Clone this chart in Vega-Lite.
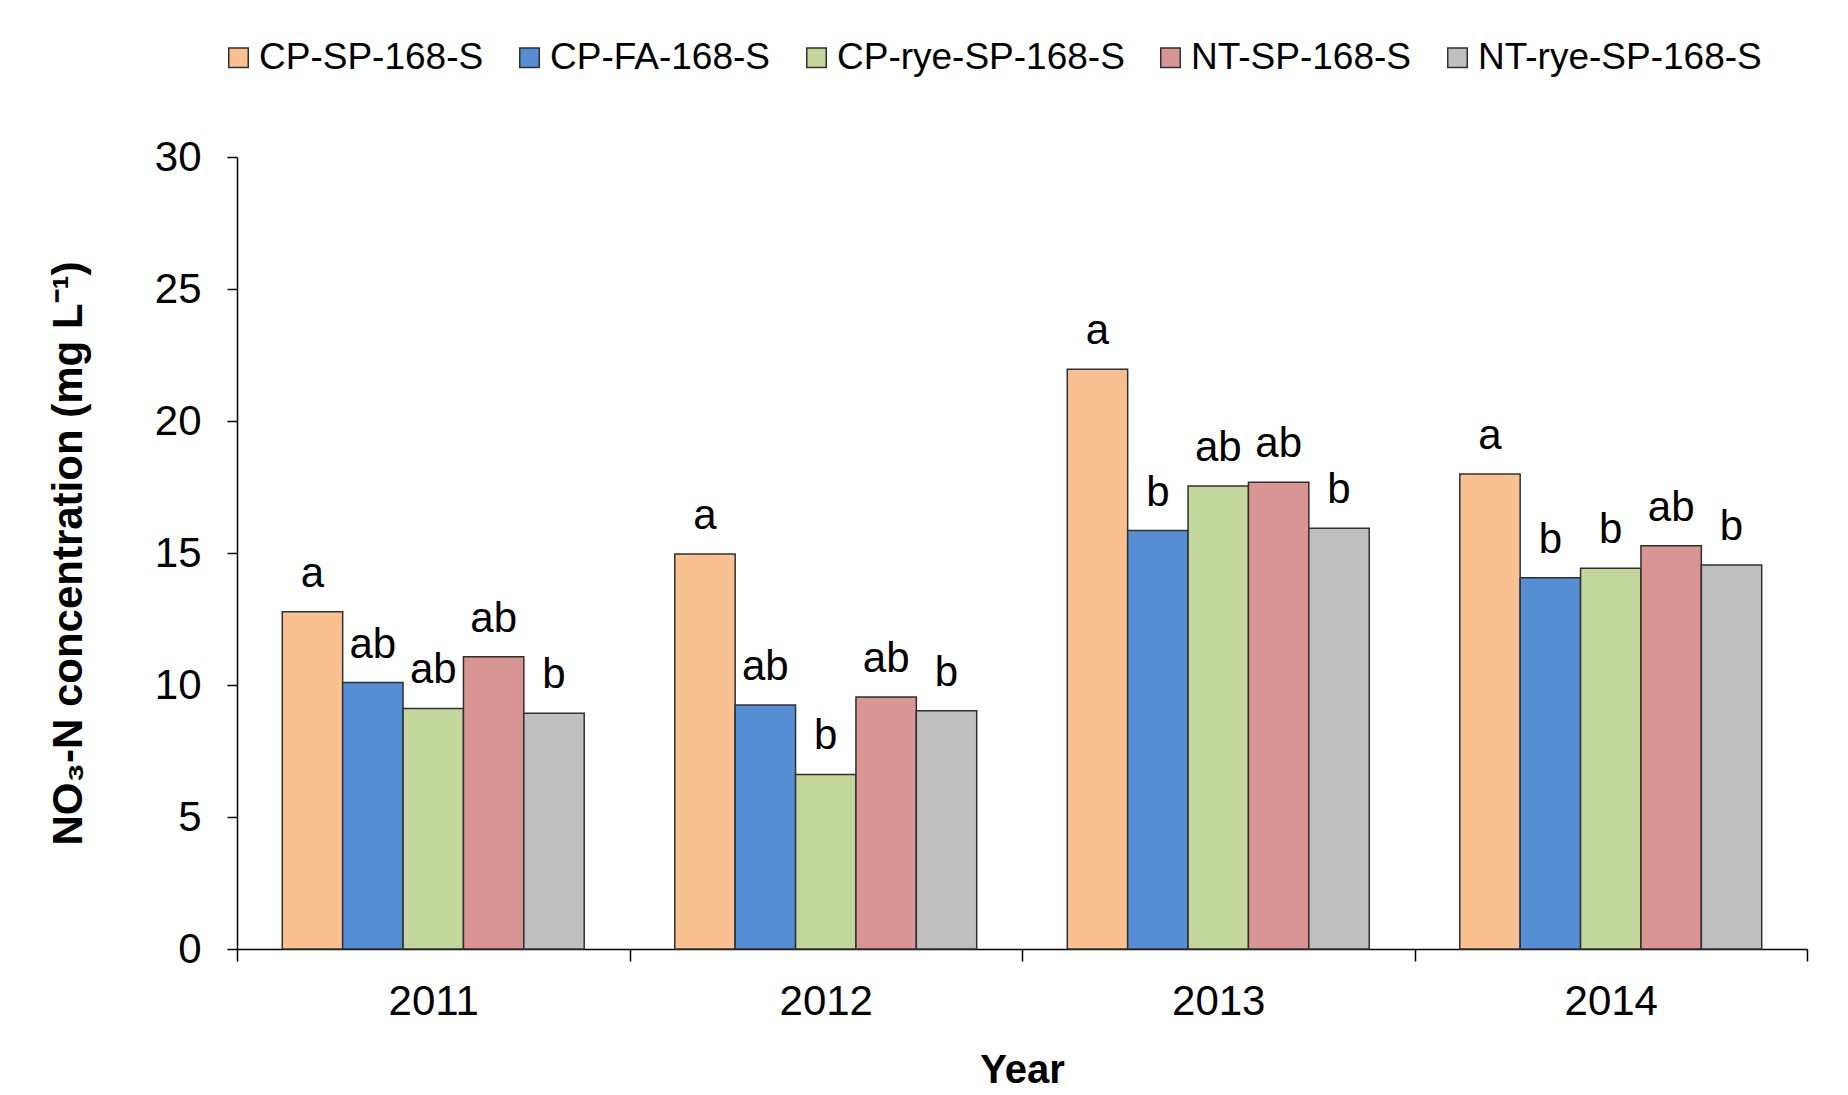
{
  "$schema": "https://vega.github.io/schema/vega-lite/v6.json",
  "width": 1570,
  "height": 792,
  "autosize": {"type": "none"},
  "padding": {"left": 237, "top": 157, "right": 41, "bottom": 146},
  "background": "white",
  "config": {
    "view": {"stroke": null},
    "font": "Liberation Sans",
    "axis": {"labelFont": "Liberation Sans", "titleFont": "Liberation Sans", "domainColor": "black", "tickColor": "black", "labelColor": "black", "titleColor": "black", "grid": false, "domainWidth": 1.5, "tickWidth": 1.5},
    "legend": {"labelFont": "Liberation Sans"}
  },
  "data": {
    "values": [
      {"year": "2011", "treatment": "CP-SP-168-S", "value": 12.77, "sig": "a"},
      {"year": "2011", "treatment": "CP-FA-168-S", "value": 10.09, "sig": "ab"},
      {"year": "2011", "treatment": "CP-rye-SP-168-S", "value": 9.11, "sig": "ab"},
      {"year": "2011", "treatment": "NT-SP-168-S", "value": 11.07, "sig": "ab"},
      {"year": "2011", "treatment": "NT-rye-SP-168-S", "value": 8.93, "sig": "b"},
      {"year": "2012", "treatment": "CP-SP-168-S", "value": 14.96, "sig": "a"},
      {"year": "2012", "treatment": "CP-FA-168-S", "value": 9.24, "sig": "ab"},
      {"year": "2012", "treatment": "CP-rye-SP-168-S", "value": 6.61, "sig": "b"},
      {"year": "2012", "treatment": "NT-SP-168-S", "value": 9.55, "sig": "ab"},
      {"year": "2012", "treatment": "NT-rye-SP-168-S", "value": 9.02, "sig": "b"},
      {"year": "2013", "treatment": "CP-SP-168-S", "value": 21.96, "sig": "a"},
      {"year": "2013", "treatment": "CP-FA-168-S", "value": 15.85, "sig": "b"},
      {"year": "2013", "treatment": "CP-rye-SP-168-S", "value": 17.54, "sig": "ab"},
      {"year": "2013", "treatment": "NT-SP-168-S", "value": 17.68, "sig": "ab"},
      {"year": "2013", "treatment": "NT-rye-SP-168-S", "value": 15.94, "sig": "b"},
      {"year": "2014", "treatment": "CP-SP-168-S", "value": 17.99, "sig": "a"},
      {"year": "2014", "treatment": "CP-FA-168-S", "value": 14.06, "sig": "b"},
      {"year": "2014", "treatment": "CP-rye-SP-168-S", "value": 14.42, "sig": "b"},
      {"year": "2014", "treatment": "NT-SP-168-S", "value": 15.27, "sig": "ab"},
      {"year": "2014", "treatment": "NT-rye-SP-168-S", "value": 14.55, "sig": "b"}
    ]
  },
  "encoding": {
    "x": {
      "field": "year", "type": "nominal",
      "scale": {"paddingInner": 0, "paddingOuter": 0},
      "axis": {"title": "Year", "titleFontSize": 40, "titleFontWeight": "bold", "titlePadding": 28, "labelFontSize": 42, "labelAngle": 0, "labelPadding": 20, "tickSize": 12, "tickBand": "extent"}
    },
    "xOffset": {
      "field": "treatment", "type": "nominal",
      "sort": ["CP-SP-168-S", "CP-FA-168-S", "CP-rye-SP-168-S", "NT-SP-168-S", "NT-rye-SP-168-S"],
      "scale": {"paddingInner": 0, "paddingOuter": 0.75}
    },
    "y": {
      "field": "value", "type": "quantitative",
      "scale": {"domain": [0, 30], "nice": false},
      "axis": {"title": "NO₃-N concentration (mg L⁻¹)", "titleFontSize": 42, "titleFontWeight": "bold", "titlePadding": 64, "labelFontSize": 42, "labelPadding": 26, "tickSize": 10, "values": [0, 5, 10, 15, 20, 25, 30]}
    }
  },
  "layer": [
    {
      "mark": {"type": "bar", "stroke": "#303030", "strokeWidth": 1.5},
      "encoding": {
        "color": {
          "field": "treatment", "type": "nominal",
          "sort": ["CP-SP-168-S", "CP-FA-168-S", "CP-rye-SP-168-S", "NT-SP-168-S", "NT-rye-SP-168-S"],
          "scale": {"domain": ["CP-SP-168-S", "CP-FA-168-S", "CP-rye-SP-168-S", "NT-SP-168-S", "NT-rye-SP-168-S"], "range": ["#F9C091", "#558ED5", "#C3D69B", "#D99594", "#BFBFBF"]},
          "legend": {
            "title": null, "orient": "none", "direction": "horizontal", "legendX": -17, "legendY": -118,
            "symbolType": "square", "symbolSize": 380, "symbolStrokeColor": "#303030", "symbolStrokeWidth": 1.5,
            "labelFontSize": 37, "labelOffset": 2, "columnPadding": 27, "labelColor": "black", "labelLimit": 400
          }
        }
      }
    },
    {
      "mark": {"type": "text", "baseline": "bottom", "dy": -16, "fontSize": 42, "color": "black"},
      "encoding": {"text": {"field": "sig"}}
    }
  ]
}
